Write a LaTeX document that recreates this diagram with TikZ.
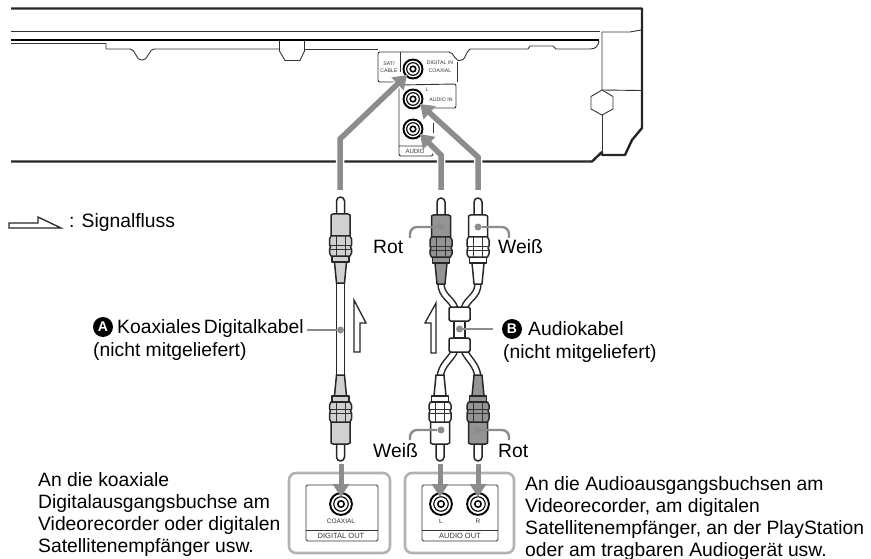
\documentclass[tikz,border=0pt]{standalone}
\usepackage{fontspec}
\setmainfont{Liberation Sans}
\usetikzlibrary{arrows.meta}
\definecolor{flowgray}{gray}{0.55}
\definecolor{boxgray}{gray}{0.7}
\definecolor{plainplug}{gray}{0.82}
\definecolor{redplug}{gray}{0.58}
\newcommand{\plaintext}{\fontsize{19.3}{22}\selectfont}
\newcommand{\tinytext}{\fontsize{5.2}{8}\selectfont}
\begin{document}
\begin{tikzpicture}[
    x=1pt,y=-1pt,
    body/.style={line width=2.4pt, black!85},
    thin/.style={line width=0.9pt, black!80},
    plugline/.style={line width=1.5pt, black!85, line join=round},
    flow/.style={line width=5.5pt, flowgray, -{Triangle[length=13pt,width=17pt]},
      preaction={draw=white, line width=8.5pt}},
    flowdown/.style={line width=5pt, flowgray, -{Triangle[length=13pt,width=16pt]}},
    hint/.style={line width=2.4pt, flowgray, rounded corners=7pt},
    hintdot/.style={fill=flowgray, draw=none, circle, minimum size=7pt, inner sep=0pt},
    halfarrow/.style={line width=1.3pt, black!85, fill=white},
    label/.style={font=\plaintext, inner sep=0pt},
    small/.style={font=\tinytext, inner sep=0pt, text=black!80},
    badge/.style={circle, fill=black, text=white, inner sep=0pt, minimum size=20pt,
      font=\fontsize{14}{14}\selectfont\bfseries},
    cable/.style={line width=7.5pt, black!85},
    cablein/.style={line width=4.5pt, white},
    pics/jack/.style={code={
      \draw[line width=1.9pt] (0,0) circle[radius=9.5];
      \draw[line width=1.1pt] (0,0) circle[radius=6.3];
      \draw[line width=1.5pt] (0,0) circle[radius=2.8];
    }},
    pics/plug/.style={code={
      \draw[plugline, fill=white] (-4,18) -- (-4,4) arc[start angle=180, end angle=360, radius=4] -- (4,18);
      \draw[plugline, fill=#1] (-6,65) -- (-4,86) -- (4,86) -- (6,65) -- cycle;
      \draw[plugline, fill=#1] (-8.5,59) rectangle (8.5,65);
      \draw[plugline, fill=#1] (-9.5,39) -- (-9.5,18) -- (-7.5,17) -- (7.5,17) -- (9.5,18) -- (9.5,39) -- cycle;
      \draw[plugline, fill=#1] (-9.5,39) -- (-11,42) -- (-11,48) -- (-10,50) -- (-11,52) -- (-11,56) -- (-9.5,59)
        -- (9.5,59) -- (11,56) -- (11,52) -- (10,50) -- (11,48) -- (11,42) -- (9.5,39) -- cycle;
      \draw[thin] (-11,48) -- (11,48) (-10.5,52) -- (10.5,52) (-4.5,39) -- (-4.5,59) (4.5,39) -- (4.5,59);
    }}
    ]
    \useasboundingbox (0,0) rectangle (871,559);

    \draw[body, line join=round] (11,8.5) -- (642,8.5) -- (642,128) -- (632,140) -- (625,155) -- (602,155)
      -- (602,152) -- (592,161.5) -- (11,161.5);
    \draw[thin] (11,31.5) -- (600,31.5);
    \draw[thin] (602,32) -- (630,32) -- (641,30);
    \draw[line width=1.1pt, black] (11,40) -- (599,40);
    \draw[thin] (11,43.5) -- (106,43.5) -- (106,49) -- (130,49) .. controls (136,49) and (135,60) .. (142,60)
      .. controls (149,60) and (148,49) .. (155,49) -- (279.5,49);
    \draw[thin] (279.5,40) -- (279.5,51) -- (285,60.5) -- (300,60.5) -- (304.5,51) -- (304.5,40);
    \draw[thin] (304.5,49) -- (378,49);
    \draw[thin] (470,49) -- (528,49) -- (530,46) -- (553,46) -- (556,49) -- (590,49)
      .. controls (596,49) and (598,46) .. (599,41);
    \draw[thin] (602,32) -- (602,90) -- (613,96.5) -- (613,109) -- (602,115) -- (591,109) -- (591,96.5) -- (602,90);
    \draw[thin] (602,115) -- (602,152);
    \draw[thin] (602,90) -- (641,90.5);

    \draw[thin, rounded corners=2pt] (400,52) -- (378,52) -- (378,82) -- (398,82);
    \draw[thin, rounded corners=2pt] (400,52) -- (451,52) .. controls (455,58) and (458,61) .. (461,60)
      .. controls (465,59) and (466,52) .. (470,49);
    \draw[thin] (400,52) -- (400,72);
    \draw[thin] (457,62) -- (457,82);
    \draw[thin, rounded corners=2pt] (399,85) -- (456,84) -- (456,108) -- (431,108);
    \draw[thin, rounded corners=2pt] (399,85) -- (399,156) -- (433,156) -- (433,146) -- (399,146);
    \draw[thin] (433,123) -- (433,133);
    \node[small, align=center] (satlabel) at (389,67) {SAT/\\[-0.5pt]CABLE};
    \node[small, align=center] (digitalin) at (440,66.5) {DIGITAL IN\\[0.5pt]COAXIAL};
    \node[small] (leftin) at (427,90) {L};
    \node[small] (audioin) at (441,100) {AUDIO IN};
    \node[small, font=\fontsize{6}{8}\selectfont] (audiobox) at (415,151.5) {AUDIO};

    \pic at (413,69) {jack};
    \pic at (413,99) {jack};
    \pic at (413,129) {jack};

    \coordinate (coaxjack) at (407,75);
    \coordinate (coaxbend) at (340,139);
    \coordinate (coaxstart) at (340,190);
    \coordinate (leftjack) at (420,104);
    \coordinate (leftbend) at (478,157);
    \coordinate (leftstart) at (478,190);
    \coordinate (rightjack) at (420,134);
    \coordinate (rightbend) at (441,155);
    \coordinate (rightstart) at (441,190);
    \draw[flow, line join=miter] (coaxstart) -- (coaxbend) -- (coaxjack);
    \draw[flow, line join=miter] (leftstart) -- (leftbend) -- (leftjack);
    \draw[flow, line join=miter] (rightstart) -- (rightbend) -- (rightjack);

    \draw[line width=1.3pt, black!85] (336.7,283) -- (336.7,376) (344.3,283) -- (344.3,376);
    \pic at (340.5,197) {plug=plainplug};
    \pic[yscale=-1] at (340.5,461) {plug=plainplug};

    \draw[cable] (441,283) .. controls (441,297) and (452,298) .. (455,309);
    \draw[cable] (478,283) .. controls (478,297) and (467,298) .. (464,309);
    \draw[cable] (455,350) .. controls (451,360) and (441,364) .. (440,378);
    \draw[cable] (464,350) .. controls (468,360) and (477,364) .. (478,378);
    \draw[cablein] (441,283) .. controls (441,297) and (452,298) .. (455,309);
    \draw[cablein] (478,283) .. controls (478,297) and (467,298) .. (464,309);
    \draw[cablein] (455,350) .. controls (451,360) and (441,364) .. (440,378);
    \draw[cablein] (464,350) .. controls (468,360) and (477,364) .. (478,378);
    \draw[plugline, fill=white] (454,321) rectangle (465,338);
    \draw[plugline, fill=white, rounded corners=1.5pt] (449,307) rectangle (470,321);
    \draw[plugline, fill=white, rounded corners=1.5pt] (449,338) rectangle (470,352);

    \pic at (441,198) {plug=redplug};
    \pic at (478,198) {plug=white};
    \pic[yscale=-1] at (440,461) {plug=white};
    \pic[yscale=-1] at (478,461) {plug=redplug};

    \draw[halfarrow] (354,300) -- (354,352) -- (360,352) -- (360,323) -- (366,323) -- cycle;
    \draw[halfarrow] (436,303) -- (436,353) -- (431,353) -- (431,323) -- (425,323) -- cycle;
    \draw[halfarrow] (9,228) -- (9,223) -- (38,223) -- (38,217) -- (61,228) -- cycle;
    \node[label, anchor=base west] (signal) at (69,227) {: Signalfluss};

    \node[hintdot] (coaxdot) at (340.5,330) {};
    \draw[hint] (coaxdot) -- (307,330);
    \node[badge] (badgea) at (103,327) {A};
    \node[label, anchor=base west] (coaxtext) at (117,333) {Koaxiales\hspace{3pt}Digitalkabel};
    \node[label, anchor=base west] (coaxnote) at (93,356) {(nicht mitgeliefert)};

    \node[hintdot] (audiodot) at (459.5,329) {};
    \node[badge] (badgeb) at (512,329) {B};
    \draw[hint] (audiodot) -- (493,329);
    \node[label, anchor=base west] (audiotext) at (528,335) {Audiokabel};
    \node[label, anchor=base west] (audionote) at (503,358) {(nicht mitgeliefert)};

    \node[hintdot] (rotdot) at (441,227) {};
    \draw[hint] (rotdot) -- (410,227) -- (410,238);
    \node[hintdot] (weissdot) at (478,227) {};
    \draw[hint] (weissdot) -- (509,227) -- (509,238);
    \node[hintdot] (weissdown) at (441,430) {};
    \draw[hint] (weissdown) -- (410,430) -- (410,440);
    \node[hintdot] (rotdown) at (477.5,430) {};
    \draw[hint] (rotdown) -- (509,430) -- (509,440);
    \node[label, anchor=base west] (rottop) at (373,254) {Rot};
    \node[label, anchor=base west] (weisstop) at (498,254) {Weiß};
    \node[label, anchor=base west] (weissbot) at (373,457) {Weiß};
    \node[label, anchor=base west] (rotbot) at (498,457) {Rot};

    \draw[line width=2.6pt, boxgray, rounded corners=7pt] (289,473) rectangle (390,553);
    \draw[line width=2.6pt, boxgray, rounded corners=7pt] (405,473) rectangle (514,553);
    \draw[thin, rounded corners=1.5pt] (306,485) rectangle (378,541);
    \draw[thin] (306,530) -- (378,530);
    \draw[thin, rounded corners=1.5pt] (422,485) rectangle (498,541);
    \draw[thin] (422,530) -- (498,530);
    \pic[scale=1.15] at (341,504) {jack};
    \pic[scale=1.15] at (441,504) {jack};
    \pic[scale=1.15] at (478,504) {jack};
    \node[small, font=\fontsize{6.5}{8}\selectfont] (coaxial) at (341,521.5) {COAXIAL};
    \node[small, font=\fontsize{6.5}{8}\selectfont] (leftout) at (441,521.5) {L};
    \node[small, font=\fontsize{6.5}{8}\selectfont] (rightout) at (478,521.5) {R};
    \node[small, font=\fontsize{7.5}{8}\selectfont] (digitalout) at (341,535.5) {DIGITAL OUT};
    \node[small, font=\fontsize{7.5}{8}\selectfont] (audioout) at (460,535.5) {AUDIO OUT};

    \coordinate (coaxout) at (341,497);
    \coordinate (coaxtop) at (341,464);
    \coordinate (leftout) at (440,497);
    \coordinate (lefttop) at (440,464);
    \coordinate (rightout) at (478,497);
    \coordinate (righttop) at (478,464);
    \draw[flowdown] (coaxtop) -- (coaxout);
    \draw[flowdown] (lefttop) -- (leftout);
    \draw[flowdown] (righttop) -- (rightout);

    \node[label, anchor=north west, align=left] (lefttext) at (38,472)
      {An die koaxiale\\Digitalausgangsbuchse am\\Videorecorder oder digitalen\\Satellitenempfänger usw.};
    \node[label, anchor=north west, align=left] (righttext) at (525,476)
      {An die Audioausgangsbuchsen am\\Videorecorder, am digitalen\\Satellitenempfänger, an der PlayStation\\oder am tragbaren Audiogerät usw.};
  \end{tikzpicture}
\end{document}
